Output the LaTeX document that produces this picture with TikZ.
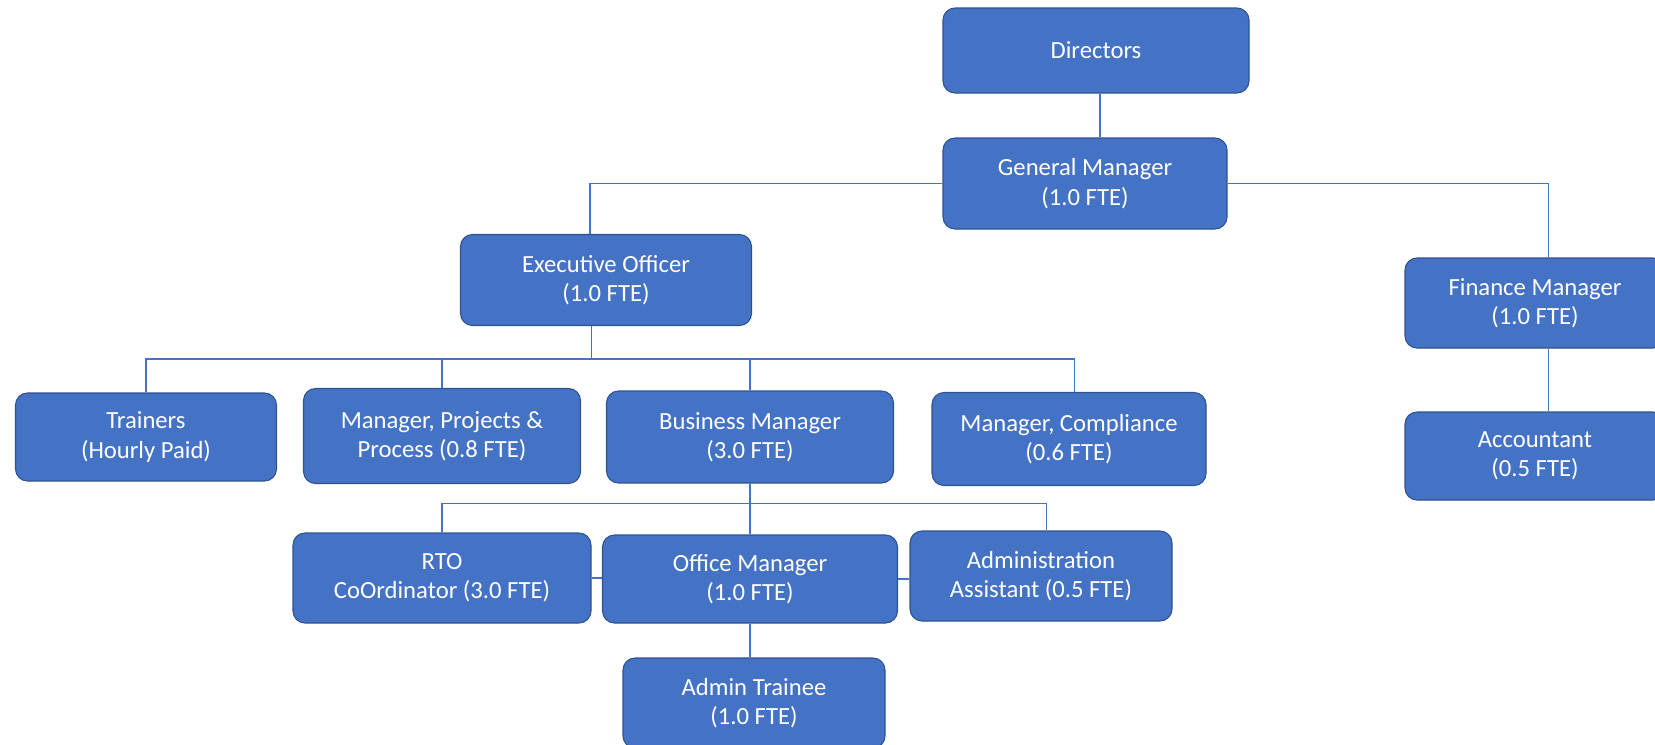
\documentclass[tikz,border=0pt]{standalone}
\usepackage{fontspec}
\setmainfont{Carlito}
\usepackage{tikz}
\usetikzlibrary{positioning}
\definecolor{boxblue}{HTML}{4472C4}
\definecolor{boxedge}{HTML}{2F528F}
\tikzstyle{role} = [rectangle, rounded corners=9pt, fill=boxblue, draw=boxedge, line width=0.8pt, text=white, align=center, inner sep=0pt, font=\fontsize{18.5}{22}\selectfont]
\tikzstyle{link} = [draw=boxblue, line width=1.1pt]

\begin{document}
\begin{tikzpicture}[x=0.75pt, y=-0.75pt]
\clip (0,0) rectangle (1655,744);
\useasboundingbox (0,0) rectangle (1655,744);
% top of the tree
\node (directors) [role, minimum width=229.5pt, minimum height=63.75pt] at (1096,50.5) {Directors};
\node (gm) [role, minimum width=213pt, minimum height=68.25pt] at (1085,183.5) {General Manager\\(1.0 FTE)};
\node (exec) [role, minimum width=218.25pt, minimum height=68.25pt] at (606,280) {Executive Officer\\(1.0 FTE)};
\node (finance) [role, minimum width=195pt, minimum height=67.5pt] at (1535,303) {Finance Manager\\(1.0 FTE)};
% second row
\node (trainers) [role, minimum width=195.75pt, minimum height=66pt] at (146,437) {Trainers\\(Hourly Paid)};
\node (mgrproj) [role, minimum width=207.75pt, minimum height=71.25pt] at (442,436) {Manager, Projects \&\\Process (0.8 FTE)};
\node (business) [role, minimum width=215.25pt, minimum height=69pt] at (750,437) {Business Manager\\(3.0 FTE)};
\node (compliance) [role, minimum width=205.5pt, minimum height=69.75pt] at (1069,439) {Manager, Compliance\\(0.6 FTE)};
\node (accountant) [role, minimum width=195pt, minimum height=66pt] at (1535,456) {Accountant\\(0.5 FTE)};
% third row
\node (rto) [role, minimum width=223.5pt, minimum height=67.5pt] at (442,578) {RTO\\CoOrdinator (3.0 FTE)};
\node (office) [role, minimum width=221.25pt, minimum height=66pt] at (750,579) {Office Manager\\(1.0 FTE)};
\node (adminasst) [role, minimum width=196.5pt, minimum height=67.5pt] at (1041,576) {Administration\\Assistant (0.5 FTE)};
\node (trainee) [role, minimum width=196.5pt, minimum height=67.5pt] at (754,703) {Admin Trainee\\(1.0 FTE)};

\coordinate (ebus) at (0,359);
\coordinate (bbus) at (0,503.5);
\draw [link] ([xshift=3pt]directors.south) -- ([xshift=3pt]directors.south |- gm.north);
\draw [link] (gm.west) -| ([xshift=-12pt]exec.north);
\draw [link] (gm.east) -| ([xshift=10pt]finance.north);
\draw [link] ([xshift=10pt]finance.south) -- ([xshift=10pt]accountant.north);
\draw [link] ([xshift=-11pt]exec.south) -- ([xshift=-11pt]exec.south |- ebus);
\draw [link] (trainers.north) |- ([xshift=4pt]ebus -| compliance.north) -- ([xshift=4pt]compliance.north);
\draw [link] (mgrproj.north) -- (mgrproj.north |- ebus);
\draw [link] (business.north) -- (business.north |- ebus);
\draw [link] (business.south) -- (office.north);
\draw [link] (rto.north) |- ([xshift=4pt]bbus -| adminasst.north) -- ([xshift=4pt]adminasst.north);
\draw [link] (rto.east) -- (rto.east -| office.west);
\draw [link] (office.east) -- (office.east -| adminasst.west);
\draw [link] (office.south) -- (office.south |- trainee.north);
\end{tikzpicture}
\end{document}
